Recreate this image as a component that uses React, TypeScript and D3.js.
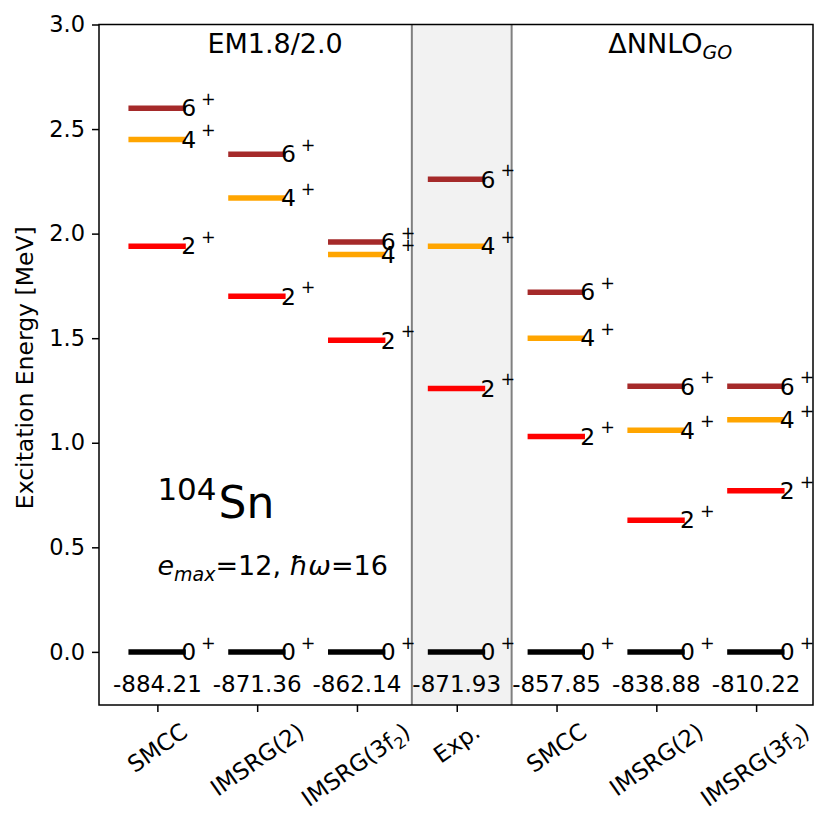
import React, { useEffect, useRef } from 'react';
import * as d3 from 'd3';

// x categories (first three: EM1.8/2.0, then experiment, then ΔNNLO_GO)
const methods = ['SMCC', 'IMSRG(2)', 'IMSRG(3f_2)', 'Exp.', 'SMCC', 'IMSRG(2)', 'IMSRG(3f_2)'];
// excitation energies in MeV
const e0 = [0, 0, 0, 0, 0, 0, 0];
const e2 = [1.94, 1.70, 1.49, 1.26, 1.03, 0.63, 0.77];
const e4 = [2.45, 2.17, 1.90, 1.94, 1.50, 1.06, 1.11];
const e6 = [2.60, 2.38, 1.96, 2.26, 1.72, 1.27, 1.27];
// ground-state energies printed under each column
const gsEnergies = ['-884.21', '-871.36', '-862.14', '-871.93', '-857.85', '-838.88', '-810.22'];
const yTicks = [0, 0.5, 1.0, 1.5, 2.0, 2.5, 3.0];

const levels = [
  { spin: '0', values: e0, color: '#000000' },
  { spin: '2', values: e2, color: '#ff0000' },
  { spin: '4', values: e4, color: '#ffa500' },
  { spin: '6', values: e6, color: '#a52a2a' },
];

const FONT = 'DejaVu Sans, sans-serif';

const App: React.FC = () => {
  const svgRef = useRef<SVGSVGElement>(null);

  useEffect(() => {
    if (!svgRef.current) return;
    const svg = d3.select(svgRef.current);
    svg.selectAll('*').remove();

    const left = 99, right = 813, top = 24.5, bottom = 705;

    const x = d3.scaleLinear().domain([-0.585, 6.57]).range([left, right]);
    const y = d3.scaleLinear().domain([-0.254, 3.0]).range([bottom, top]);

    const g = svg.append('g').style('font-family', FONT);

    // experiment band
    g.append('rect')
      .attr('x', x(2.55))
      .attr('y', top)
      .attr('width', x(3.55) - x(2.55))
      .attr('height', bottom - top)
      .attr('fill', '#f2f2f2');
    [2.55, 3.55].forEach(v => {
      g.append('line')
        .attr('x1', x(v)).attr('x2', x(v))
        .attr('y1', top).attr('y2', bottom)
        .attr('stroke', '#808080')
        .attr('stroke-width', 2);
    });

    // level bars
    levels.forEach(lv => {
      g.selectAll(null)
        .data(lv.values)
        .enter()
        .append('line')
        .attr('x1', (_, i) => x(i - 0.29))
        .attr('x2', (_, i) => x(i + 0.285))
        .attr('y1', d => y(d))
        .attr('y2', d => y(d))
        .attr('stroke', lv.color)
        .attr('stroke-width', 5.5);
    });

    // level labels J^+
    levels.forEach(lv => {
      const t = g.selectAll(null)
        .data(lv.values)
        .enter()
        .append('text')
        .attr('x', (_, i) => x(i + 0.238))
        .attr('y', d => y(d) + 8.3)
        .attr('font-size', 23.5)
        .attr('fill', '#000');
      t.append('tspan').text(lv.spin);
      t.append('tspan')
        .attr('dx', 5)
        .attr('dy', -11.5)
        .attr('font-size', 17.5)
        .text('+');
    });

    // ground-state energies
    g.selectAll(null)
      .data(gsEnergies)
      .enter()
      .append('text')
      .attr('x', (_, i) => x(i))
      .attr('y', y(-0.15) + 8.3)
      .attr('text-anchor', 'middle')
      .attr('font-size', 23)
      .text(d => d);

    // headers
    g.append('text')
      .attr('x', x(1.18))
      .attr('y', y(2.866))
      .attr('text-anchor', 'middle')
      .attr('font-size', 27)
      .text('EM1.8/2.0');

    const hdr = g.append('text')
      .attr('x', x(5.14))
      .attr('y', y(2.866))
      .attr('text-anchor', 'middle')
      .attr('font-size', 27);
    hdr.append('tspan').text('ΔNNLO');
    hdr.append('tspan')
      .attr('dy', 6)
      .attr('font-size', 19)
      .attr('font-style', 'italic')
      .text('GO');

    // nucleus label
    const nuc = g.append('text')
      .attr('x', x(0))
      .attr('y', y(0.64))
      .attr('font-size', 44);
    nuc.append('tspan')
      .attr('font-size', 31)
      .attr('dy', -18)
      .text('104');
    nuc.append('tspan')
      .attr('dy', 18)
      .attr('dx', 2)
      .text('Sn');

    const par = g.append('text')
      .attr('x', x(0))
      .attr('y', y(0.368))
      .attr('font-size', 27);
    par.append('tspan').attr('font-style', 'italic').text('e');
    par.append('tspan').attr('font-style', 'italic').attr('font-size', 19).attr('dy', 6).text('max');
    par.append('tspan').attr('dy', -6).text('=12, ');
    par.append('tspan').attr('font-style', 'italic').text('ħω');
    par.append('tspan').text('=16');

    // frame
    g.append('rect')
      .attr('x', left).attr('y', top)
      .attr('width', right - left).attr('height', bottom - top)
      .attr('fill', 'none')
      .attr('stroke', '#000')
      .attr('stroke-width', 1.5);

    // y axis
    const yAxis = d3.axisLeft(y)
      .tickValues(yTicks)
      .tickSize(7)
      .tickPadding(7)
      .tickFormat(d => d3.format('.1f')(d as number));
    const ya = g.append('g')
      .attr('transform', `translate(${left},0)`)
      .call(yAxis);
    ya.select('.domain').remove();
    ya.selectAll('line').attr('stroke-width', 1.5);
    ya.selectAll('text')
      .attr('font-size', 22.5)
      .attr('font-family', FONT)
      .attr('fill', '#000');

    // x axis ticks
    const xa = g.append('g')
      .attr('transform', `translate(0,${bottom})`)
      .call(d3.axisBottom(x).tickValues(d3.range(methods.length)).tickSize(7).tickFormat(() => ''));
    xa.select('.domain').remove();
    xa.selectAll('line').attr('stroke-width', 1.5);

    // rotated category labels
    const angle = 35;
    const rad = (angle * Math.PI) / 180;
    methods.forEach((m, i) => {
      const t = g.append('text')
        .attr('font-size', 23)
        .attr('fill', '#000');
      const parts = m.split('_');
      if (parts.length === 2) {
        t.append('tspan').text(parts[0]);
        t.append('tspan').attr('font-size', 16).attr('dy', 5).text(parts[1][0]);
        t.append('tspan').attr('dy', -5).text(parts[1].slice(1));
      } else {
        t.text(m);
      }
      const bb = (t.node() as SVGTextElement).getBBox();
      const cx = bb.x + bb.width / 2;
      const cy = bb.y + bb.height / 2;
      const H = bb.width * Math.sin(rad) + bb.height * Math.cos(rad);
      const boxTop = 718;
      t.attr('transform',
        `translate(${x(i)},${boxTop + H / 2}) rotate(${-angle}) translate(${-cx},${-cy})`);
    });

    // y label
    g.append('text')
      .attr('transform', `translate(24.5,${(top + bottom) / 2 + 3}) rotate(-90)`)
      .attr('text-anchor', 'middle')
      .attr('dominant-baseline', 'central')
      .attr('font-size', 23.5)
      .text('Excitation Energy [MeV]');
  }, []);

  return (
    <svg
      ref={svgRef}
      width={830}
      height={830}
      style={{ position: 'absolute', left: 0, top: 0, background: '#fff' }}
    />
  );
};

export default App;
